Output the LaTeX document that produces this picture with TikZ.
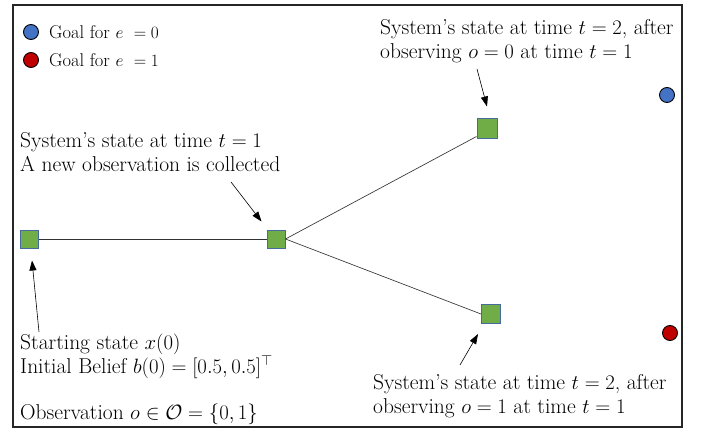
\documentclass[tikz,border=0pt]{standalone}
\usepackage{amsmath,amssymb}
\usetikzlibrary{arrows.meta}
\definecolor{stategreen}{RGB}{112,173,71}
\definecolor{stateedge}{RGB}{70,105,160}
\definecolor{goalblue}{RGB}{68,114,196}
\definecolor{goalred}{RGB}{192,0,0}
\tikzset{
  state/.style={draw=stateedge, fill=stategreen, line width=1pt, minimum size=18pt, inner sep=0pt},
  goal/.style={circle, draw=black, line width=0.9pt, minimum size=15pt, inner sep=0pt},
  label text/.style={inner sep=0pt, anchor=base west, align=left, font=\fontsize{21.5}{24}\selectfont},
  legend text/.style={inner sep=0pt, anchor=west, font=\fontsize{18.5}{21}\selectfont},
  pointer/.style={-{Triangle[length=10pt,width=7pt]}, line width=0.6pt},
  link/.style={line width=0.65pt, draw=black!80}
}
\begin{document}
\begin{tikzpicture}[x=1pt,y=-1pt]
  \useasboundingbox (0,0) rectangle (702,431);
  % outer frame
  \draw[line width=1.2pt, draw=black!85] (13,5) rectangle (682,427);

  % legend
  \node[goal, fill=goalblue] (lb) at (31,32) {};
  \node[goal, fill=goalred] (lr) at (31,60) {};
  \node[legend text] (lbt) at (49,32) {Goal for $e~=0$};
  \node[legend text] (lrt) at (49,60) {Goal for $e~=1$};

  % goals
  \node[goal, fill=goalblue] (g0) at (667,95) {};
  \node[goal, fill=goalred] (g1) at (670,333) {};

  % states
  \node[state] (s0) at (29,239) {};
  \node[state] (s1) at (276,239) {};
  \node[state, minimum size=20pt] (s2) at (487,128) {};
  \node[state, minimum size=19pt] (s3) at (491,314) {};

  \draw[link] (s0) -- (s1);
  \draw[link] (s1.east) -- ([yshift=2pt]s2.south west);
  \draw[link] (s1.east) -- (s3.west);

  % annotations (anchored on the baseline of their last line)
  \node[label text] (t1) at (20,171) {System's state at time $t=1$\\A new observation is collected};
  \node[label text] (t2a) at (380,58) {System's state at time $t=2$, after\\observing $o=0$ at time $t=1$};
  \node[label text] (t2b) at (373,413) {System's state at time $t=2$, after\\observing $o=1$ at time $t=1$};
  \node[label text] (t0) at (20,373) {Starting state $x(0)$\\Initial Belief $b(0)=[0.5,0.5]^\top$};
  \node[label text] (obs) at (20,419) {Observation $o\in\mathcal{O}=\{0,1\}$};

  \coordinate (p1) at (231,182);
  \coordinate (p2) at (477,69);
  \coordinate (p3) at (460,365);
  \coordinate (p0) at (39,332);
  \draw[pointer] (p1) -- ([xshift=-5pt,yshift=8pt]s1.north west);
  \draw[pointer] (p2) -- ([yshift=11pt]s2.north);
  \draw[pointer] (p3) -- ([xshift=-3pt,yshift=-10pt]s3.south west);
  \draw[pointer] (p0) -- ([xshift=3pt,yshift=-12pt]s0.south);
\end{tikzpicture}
\end{document}
